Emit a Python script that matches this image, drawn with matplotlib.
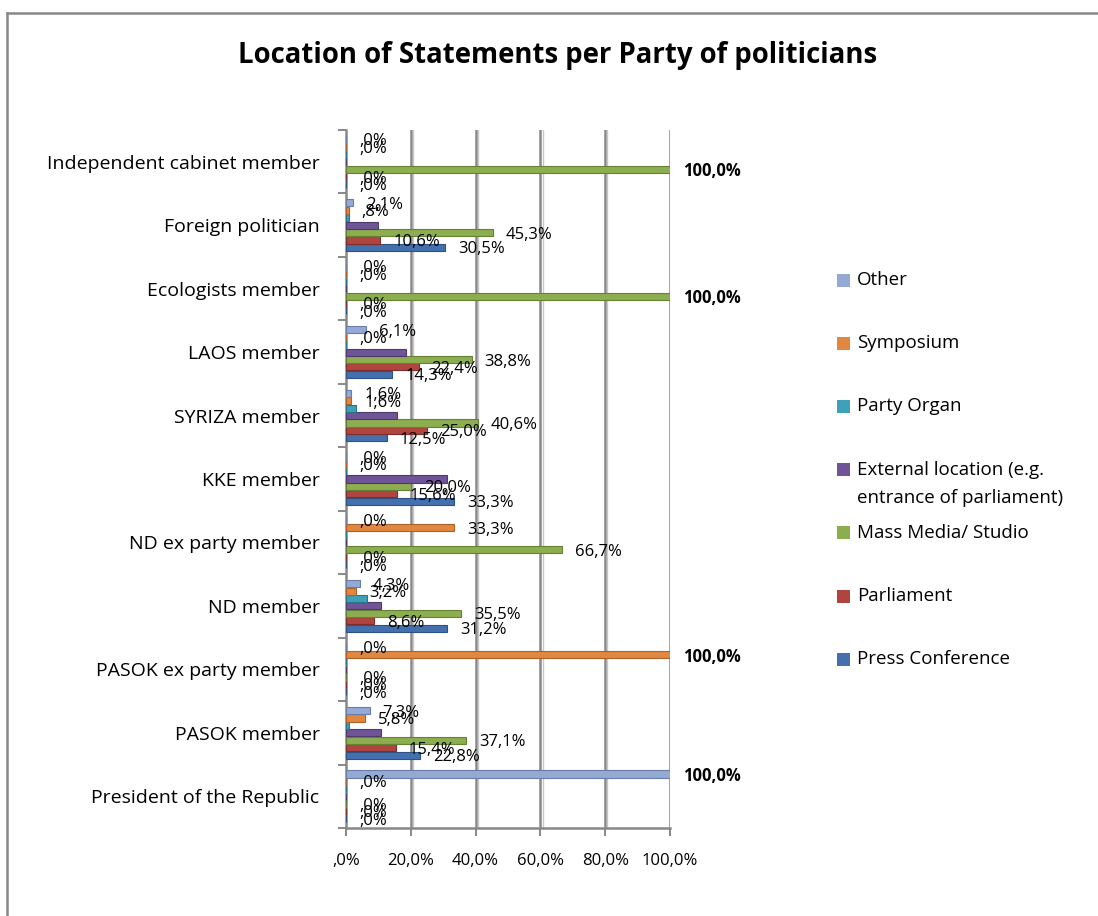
import matplotlib
matplotlib.use("Agg")
import matplotlib.pyplot as plt
from matplotlib.lines import Line2D
from matplotlib.patches import Rectangle
import numpy as np

plt.rcParams['font.family'] = ['Open Sans', 'DejaVu Sans']

categories = ["President of the Republic", "PASOK member", "PASOK ex party member",
              "ND member", "ND ex party member", "KKE member", "SYRIZA member",
              "LAOS member", "Ecologists member", "Foreign politician",
              "Independent cabinet member"]

series_names = ["Press Conference", "Parliament", "Mass Media/ Studio",
                "External location (e.g.\nentrance of parliament)", "Party Organ",
                "Symposium", "Other"]

press_conference = [0, 22.8, 0, 31.2, 0, 33.3, 12.5, 14.3, 0, 30.5, 0]
parliament       = [0, 15.4, 0, 8.6, 0, 15.6, 25.0, 22.4, 0, 10.6, 0]
mass_media       = [0, 37.1, 0, 35.5, 66.7, 20.0, 40.6, 38.8, 100.0, 45.3, 100.0]
external_loc     = [0, 10.9, 0, 10.8, 0, 31.1, 15.6, 18.4, 0, 10.0, 0]
party_organ      = [0, 1.0, 0, 6.5, 0, 0, 3.1, 0, 0, 0.8, 0]
symposium        = [0, 5.8, 100.0, 3.2, 33.3, 0, 1.6, 0, 0, 0.8, 0]
other            = [100.0, 7.3, 0, 4.3, 0, 0, 1.6, 6.1, 0, 2.1, 0]

series_values = [press_conference, parliament, mass_media, external_loc,
                 party_organ, symposium, other]
# which series show data labels in the reference
show_labels = [True, True, True, False, False, True, True]
colors = ['#4471AE', '#B0453F', '#8DAE4F', '#6F5497', '#3FA0B9', '#E2873F', '#94AAD4']
edge_colors = ['#2E5283', '#7F2F2B', '#66803A', '#4F3A6E', '#2C7486', '#A9622C', '#6A7FA8']

x_ticks = [0, 20, 40, 60, 80, 100]
x_ticklabels = [",0%", "20,0%", "40,0%", "60,0%", "80,0%", "100,0%"]


def fmt(v):
    s = f"{v:.1f}".replace('.', ',')
    if s.startswith('0'):
        s = s[1:]
    return s + '%'


W, H = 1098, 916
fig = plt.figure(figsize=(W / 100, H / 100), dpi=100)
fig.patch.set_facecolor('white')

ax = fig.add_axes([346 / W, 1 - 828 / H, (670 - 346) / W, (828 - 130) / H])

n = len(categories)
y = np.arange(n)
pitch = 0.117
height = 0.112

for i, (vals, c, ec) in enumerate(zip(series_values, colors, edge_colors)):
    off = (i - 3) * pitch
    ax.barh(y + off, vals, height=height, color=c, edgecolor=ec, linewidth=0.8, zorder=3)
    if not show_labels[i]:
        continue
    for yy, v in zip(y, vals):
        ax.annotate(fmt(v), xy=(v, yy + off), xytext=(13, -2), textcoords='offset pixels',
                    ha='left', va='center', fontsize=12,
                    fontweight='bold' if v >= 100 else 'normal', color='black',
                    zorder=5, annotation_clip=False)

ax.set_xlim(0, 100)
ax.set_ylim(-0.5, n - 0.5)

for xt in x_ticks[1:]:
    ax.axvline(xt, color='#888888', lw=1.8, zorder=1)
    ax.axvline(xt + 0.7, color='#C8C8C8', lw=1.0, zorder=1)

ax.set_xticks(x_ticks)
ax.set_xticklabels(x_ticklabels, fontsize=12)
ax.tick_params(axis='x', direction='out', length=6, width=1.4, color='#888888', pad=12)

ax.set_yticks(y)
ax.set_yticklabels(categories, fontsize=14)
ax.tick_params(axis='y', which='major', length=0, pad=19)
ax.set_yticks(np.arange(-0.5, n, 1.0), minor=True)
ax.tick_params(axis='y', which='minor', direction='out', length=6, width=1.4, color='#888888')

for s in ['top', 'right']:
    ax.spines[s].set_visible(False)
for s in ['left', 'bottom']:
    ax.spines[s].set_color('#888888')
    ax.spines[s].set_linewidth(1.8)

fig.text(558 / W, 1 - 55 / H, "Location of Statements per Party of politicians",
         ha='center', va='center', fontsize=19.8, fontweight='bold')

# chart border
fig.add_artist(Line2D([7 / W, 7 / W], [0, 1 - 13 / H], color='#888888', lw=1.8))
fig.add_artist(Line2D([7 / W, 1], [1 - 13 / H, 1 - 13 / H], color='#888888', lw=1.8))

# legend (reversed order: Other at top)
legend_y = [280 + k * 63.2 for k in range(len(series_names))]
for k, idx in enumerate(range(len(series_names) - 1, -1, -1)):
    yy = legend_y[k]
    fig.add_artist(Rectangle((837 / W, 1 - (yy + 6.5) / H), 13 / W, 13 / H,
                             facecolor=colors[idx], edgecolor='none'))
    lines = series_names[idx].split('\n')
    for j, line in enumerate(lines):
        fig.text(857 / W, 1 - (yy + j * 28) / H, line, ha='left', va='center',
                 fontsize=13.5)

fig.savefig('out.png', dpi=100)
